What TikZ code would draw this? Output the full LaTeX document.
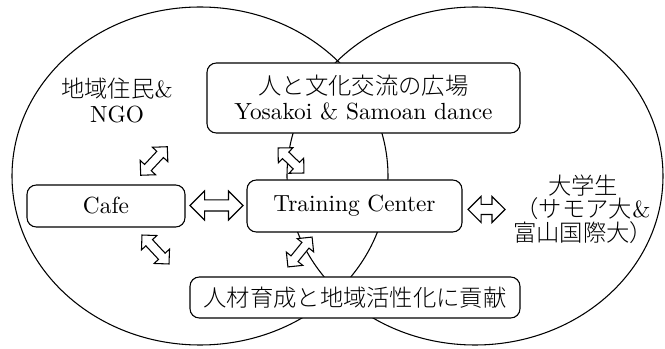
\documentclass[tikz,border=0pt]{standalone}
\usepackage{fontspec}
\setmainfont{lmroman10-regular.otf}
\newfontfamily\cjk{Noto Sans CJK JP Light}
\usetikzlibrary{shapes.arrows}
\begin{document}
\begin{tikzpicture}[x=0.75pt,y=-0.75pt,
  every node/.style={font=\fontsize{17.5}{18.75}\selectfont},
  circ/.style={draw,line width=0.8pt},
  box/.style={draw,fill=white,rounded corners=7pt,line width=0.8pt,align=center,inner sep=0pt},
  lbl/.style={align=center,inner sep=0pt},
  darr/.style={double arrow,draw,fill=white,line width=0.8pt,inner xsep=0pt,double arrow tip angle=90},
  bigarr/.style={darr,inner ysep=3.75pt,double arrow head extend=6.75pt},
  midarr/.style={darr,inner ysep=3.375pt,double arrow head extend=6pt},
  smallarr/.style={darr,inner ysep=3pt,double arrow head extend=4.5pt}]
\useasboundingbox (0,0) rectangle (665,349);
% circles
\draw[circ] (200,176) ellipse [x radius=141pt, y radius=126.75pt];
\draw[circ] (475,176) ellipse [x radius=141pt, y radius=126.75pt];
% boxes
\node[box,minimum width=234.75pt,minimum height=52.5pt] (plaza) at (363.5,98)
  {{\cjk 人と文化交流の広場}\\Yosakoi \& Samoan dance};
\node[box,minimum width=118.5pt,minimum height=31.5pt] (cafe) at (106,206) {Cafe};
\node[box,minimum width=161.25pt,minimum height=39pt] (tc) at (354.5,206) {Training Center};
\node[box,minimum width=247.5pt,minimum height=30.75pt] (hr) at (355,297.5)
  {{\cjk 人材育成と地域活性化に貢献}};
% labels
\node[lbl] (ngo) at (117,100) {{\cjk 地域住民}\&\\NGO};
\node[lbl,font=\fontsize{17.5}{17.6}\selectfont] (univ) at (583,209) {{\cjk 大学生}\\{\cjk （サモア大}\&\\{\cjk 富山国際大）}};
% arrows
\node[bigarr,minimum height=39.75pt] (a1) at (216.5,205.5) {};
\node[midarr,minimum height=27.75pt] (a2) at (486.5,209.5) {};
\node[smallarr,minimum height=29.25pt,rotate=47] (a3) at (154,161) {};
\node[smallarr,minimum height=27pt,rotate=-44] (a4) at (291,160.5) {};
\node[smallarr,minimum height=29.7pt,rotate=-47] (a5) at (155.5,249.5) {};
\node[smallarr,minimum height=28.8pt,rotate=51] (a6) at (300,252) {};
\end{tikzpicture}
\end{document}
